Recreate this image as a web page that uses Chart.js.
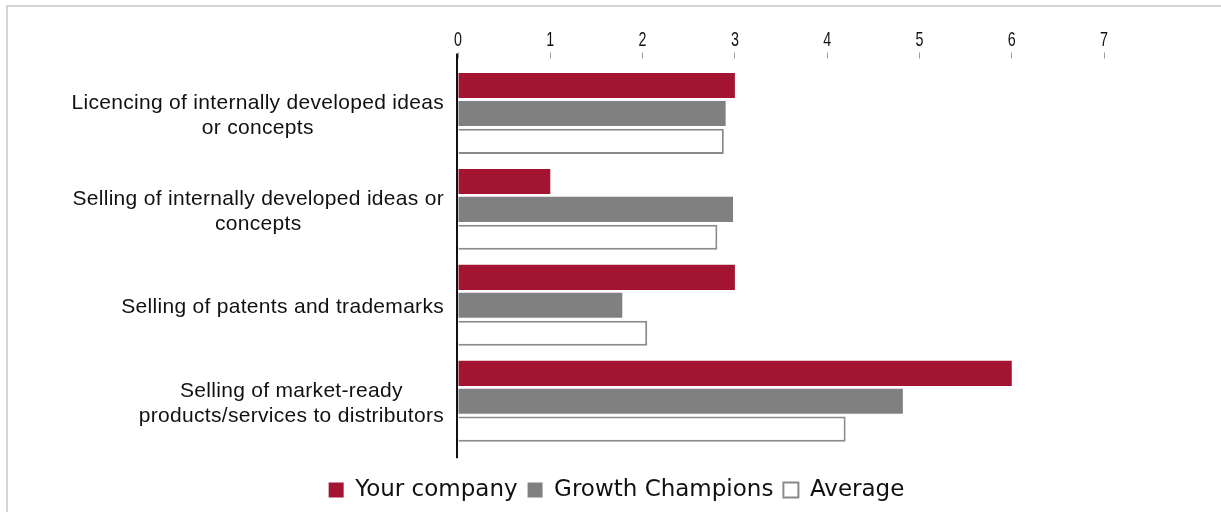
<!DOCTYPE html>
<html>
<head>
<meta charset="utf-8">
<script src="https://cdn.jsdelivr.net/npm/chart.js@4/dist/chart.umd.min.js"></script>
<style>
  html, body { margin: 0; padding: 0; background: #fff; }
  #wrap { position: relative; width: 1221px; height: 512px; }
  #frame {
    position: absolute; left: 6px; top: 5px; right: 0; bottom: 0;
    border-top: 2px solid #d4d4d4; border-left: 2px solid #d4d4d4;
  }
  #chart { position: absolute; left: 0; top: 0; }
</style>
</head>
<body>
<div id="wrap">
  <div id="frame"></div>
  <canvas id="chart" width="1221" height="512"></canvas>
</div>
<script>
var categories = [
  ["Licencing of internally developed ideas", "or concepts"],
  ["Selling of internally developed ideas or", "concepts"],
  ["Selling of patents and trademarks"],
  ["Selling of market-ready", "products/services to distributors"]
];
var yourCompany = [3, 1, 3, 6];
var growthChampions = [2.9, 2.98, 1.78, 4.82];
var average = [2.88, 2.81, 2.05, 4.2];
var xTicks = [0, 1, 2, 3, 4, 5, 6, 7];

// category labels: lines centred on each other, block pushed against the axis
var categoryLabels = {
  id: 'categoryLabels',
  afterDraw: function(chart) {
    var ctx = chart.ctx;
    var yScale = chart.scales.y;
    var right = chart.chartArea.left - 14;
    ctx.save();
    ctx.font = '21px "Liberation Sans", Arial, sans-serif';
    ctx.letterSpacing = '0.3px';
    ctx.fillStyle = '#111';
    ctx.textAlign = 'center';
    ctx.textBaseline = 'middle';
    categories.forEach(function(lines, i) {
      var widest = 0;
      lines.forEach(function(l) { widest = Math.max(widest, ctx.measureText(l).width); });
      var cx = right - widest / 2;
      var cy = yScale.getPixelForTick(i) + 2;
      var lh = 25;
      var top = cy - (lines.length - 1) * lh / 2;
      lines.forEach(function(l, j) { ctx.fillText(l, cx, top + j * lh); });
    });
    ctx.restore();
  }
};

// narrow tick numbers above the marks
var xTickLabels = {
  id: 'xTickLabels',
  afterDraw: function(chart) {
    var ctx = chart.ctx;
    var xScale = chart.scales.x;
    ctx.save();
    ctx.font = '21px "Liberation Sans", Arial, sans-serif';
    ctx.fillStyle = '#111';
    ctx.textAlign = 'center';
    ctx.textBaseline = 'alphabetic';
    xTicks.forEach(function(v) {
      var px = xScale.getPixelForValue(v);
      ctx.save();
      ctx.translate(px, 46);
      ctx.scale(0.68, 1);
      ctx.fillText(String(v), 0, 0);
      ctx.restore();
    });
    ctx.restore();
  }
};

// vertical axis line, a bit longer than the plot area
var axisLine = {
  id: 'axisLine',
  afterDatasetsDraw: function(chart) {
    var ctx = chart.ctx;
    var a = chart.chartArea;
    ctx.save();
    ctx.strokeStyle = '#111';
    ctx.lineWidth = 2;
    ctx.beginPath();
    ctx.moveTo(a.left - 1, a.top - 12);
    ctx.lineTo(a.left - 1, a.bottom + 9);
    ctx.stroke();
    ctx.restore();
  }
};

new Chart(document.getElementById('chart').getContext('2d'), {
  type: 'bar',
  data: {
    labels: categories.map(function(c) { return c.join(' '); }),
    datasets: [
      { label: 'Your company', data: yourCompany, backgroundColor: '#a31432', borderWidth: 0 },
      { label: 'Growth Champions', data: growthChampions, backgroundColor: '#808080', borderWidth: 0 },
      { label: 'Average', data: average, backgroundColor: '#ffffff', borderColor: '#8a8a8a', borderWidth: 2 }
    ]
  },
  options: {
    indexAxis: 'y',
    responsive: false,
    animation: false,
    categoryPercentage: 0.873,
    barPercentage: 0.9,
    layout: { padding: { left: 12, right: 0, top: 0, bottom: 0.6 } },
    scales: {
      x: {
        position: 'top',
        min: 0,
        max: 8.267,
        afterBuildTicks: function(s) { s.ticks = xTicks.map(function(v) { return { value: v }; }); },
        afterFit: function(s) { s.height = 65.5; },
        ticks: { display: false },
        grid: {
          drawOnChartArea: false,
          drawTicks: true,
          tickLength: 13,
          tickBorderDash: [6, 30],
          tickColor: '#999',
          tickWidth: 1
        },
        border: { display: false }
      },
      y: {
        afterFit: function(s) { s.width = 446; },
        ticks: { display: false },
        grid: { display: false },
        border: { display: false }
      }
    },
    plugins: {
      tooltip: { enabled: false },
      legend: {
        position: 'bottom',
        title: { display: true, text: '', padding: 0, font: { size: 16 } },
        labels: {
          boxWidth: 15,
          boxHeight: 15,
          padding: 10,
          color: '#111',
          font: { family: '"DejaVu Sans", Verdana, sans-serif', size: 23 }
        }
      }
    }
  },
  plugins: [categoryLabels, xTickLabels, axisLine]
});
</script>
</body>
</html>
